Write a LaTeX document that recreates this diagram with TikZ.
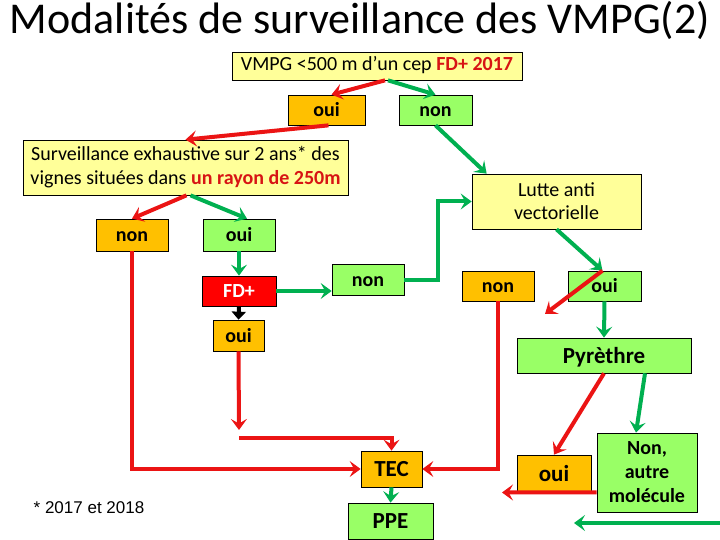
\documentclass[tikz,border=0pt]{standalone}
\usepackage{fontspec}
\setmainfont{Carlito}
\newfontfamily\arialf{Liberation Sans}
\usetikzlibrary{arrows.meta,calc}
\definecolor{byellow}{HTML}{FFFF99}
\definecolor{borange}{HTML}{FFC000}
\definecolor{bgreen}{HTML}{99FF66}
\definecolor{bred}{HTML}{FF0000}
\definecolor{ared}{RGB}{235,20,20}
\definecolor{agreen}{HTML}{00B050}
\definecolor{tred}{RGB}{215,20,20}
\tikzset{
  box/.style={draw=black, line width=0.7pt, inner sep=0pt, font=\fontsize{20}{24}\selectfont},
  single/.style={text height=13pt, text depth=0pt},
  big/.style={font=\fontsize{23}{27}\selectfont\bfseries, text height=15pt, text depth=0pt},
  ybox/.style={box, fill=byellow},
  obox/.style={box, single, fill=borange, font=\fontsize{20}{24}\selectfont\bfseries},
  gbox/.style={box, single, fill=bgreen, font=\fontsize{20}{24}\selectfont\bfseries},
  rbox/.style={box, single, fill=bred, text=white, font=\fontsize{20}{24}\selectfont\bfseries},
  multi/.style={align=center, text height={}, text depth={}},
  rarr/.style={draw=ared, line width=4pt, -{Stealth[length=11pt,width=16pt,inset=4.5pt]}},
  garr/.style={draw=agreen, line width=4pt, -{Stealth[length=11pt,width=16pt,inset=4.5pt]}},
  karr/.style={draw=black, line width=4pt, -{Triangle[length=8pt,width=14pt]}},
}
\begin{document}
\begin{tikzpicture}[x=1pt,y=-1pt]
\useasboundingbox (0,0) rectangle (720,540);
\node[font=\fontsize{44}{50}\selectfont, anchor=base, inner sep=0pt] (title) at (360,34) {Modalités de surveillance des VMPG(2)};

\node[ybox, text height=13pt, text depth=4pt, minimum width=290pt, minimum height=28pt] (vmpg) at (377,66) {VMPG <500 m d’un cep \textcolor{tred}{\bfseries FD+ 2017}};
\node[obox, minimum width=77pt, minimum height=30pt] (oui1) at (326.5,110) {oui};
\node[gbox, minimum width=73pt, minimum height=30pt] (non1) at (435.5,110) {non};
\node[ybox, multi, minimum width=325pt, minimum height=55pt] (surv) at (185.5,167.5) {Surveillance exhaustive sur 2 ans* des\\vignes situées dans \textcolor{tred}{\bfseries un rayon de 250m}};
\node[ybox, multi, minimum width=169pt, minimum height=55pt, font=\fontsize{20}{23}\selectfont] (lutte) at (556.5,201.5) {Lutte anti\\vectorielle};
\node[obox, minimum width=72pt, minimum height=32pt] (non2) at (132,235) {non};
\node[gbox, minimum width=72pt, minimum height=32pt] (oui2) at (239,235) {oui};
\node[rbox, minimum width=74pt, minimum height=30pt] (fd) at (239,291) {FD+};
\node[gbox, minimum width=72pt, minimum height=31pt] (non3) at (368,279.5) {non};
\node[obox, minimum width=51pt, minimum height=31pt] (oui3) at (238.5,335.5) {oui};
\node[obox, minimum width=72pt, minimum height=30pt] (non4) at (498,286) {non};
\node[gbox, minimum width=73pt, minimum height=30pt] (oui4) at (604.5,286) {oui};
\node[gbox, big, minimum width=174pt, minimum height=35pt] (pyr) at (604,355.5) {Pyrèthre};
\node[obox, big, minimum width=61pt, minimum height=36pt] (tec) at (391.5,469) {TEC};
\node[gbox, big, minimum width=85pt, minimum height=36pt] (ppe) at (390.5,521) {PPE};
\node[obox, big, minimum width=74pt, minimum height=37pt] (oui5) at (554,473.5) {oui};
\node[gbox, multi, minimum width=100pt, minimum height=79pt] (nonautre) at (647,472.5) {Non,\\autre\\molécule};
\node[font=\arialf\fontsize{17}{20}\selectfont, inner sep=0pt] (note) at (89,508) {* 2017 et 2018};

\coordinate (c1) at (239,430);
\coordinate (c2) at (239,438);
\coordinate (c3) at (545,314);
\coordinate (c4) at (502,492.5);
\coordinate (c5) at (720,523);
\coordinate (c6) at (574,523);

\draw[rarr] ([xshift=8pt]vmpg.south) -- ([xshift=5pt]oui1.north);
\draw[garr] ([xshift=11pt]vmpg.south) -- (non1.north);
\draw[rarr] ([xshift=2pt]oui1.south) -- (surv.north);
\draw[garr] (non1.south) -- ([xshift=15pt]lutte.north west);
\draw[rarr] ([xshift=1pt]surv.south) -- (non2.north);
\draw[garr] ([xshift=5pt]surv.south) -- ([xshift=8pt]oui2.north);
\draw[garr] (oui2.south) -- (fd.north);
\draw[karr] (fd.south) -- (oui3.north);
\draw[rarr] (oui3.south) -- (c1);
\draw[rarr] (c2) -| (tec.north);
\draw[rarr] (non2.south) |- (tec.west);
\draw[rarr] (non4.south) |- (tec.east);
\draw[garr] (tec.south) -- (ppe.north);
\draw[garr] (fd.east) -- (fd.east -| non3.west);
\draw[garr] (non3.east) -- ++(34,0) |- (lutte.west);
\draw[garr] (lutte.south) -- ([xshift=-2pt]oui4.north);
\draw[rarr] ([xshift=-2pt]oui4.north) -- (c3);
\draw[garr] (oui4.south) -- (pyr.north);
\draw[rarr] (pyr.south) -- (oui5.north);
\draw[garr] ([xshift=41pt]pyr.south) -- ([xshift=-11pt]nonautre.north);
\draw[rarr] (oui5.south -| nonautre.west) -- (c4);
\draw[garr] (c5) -- (c6);
\end{tikzpicture}
\end{document}
